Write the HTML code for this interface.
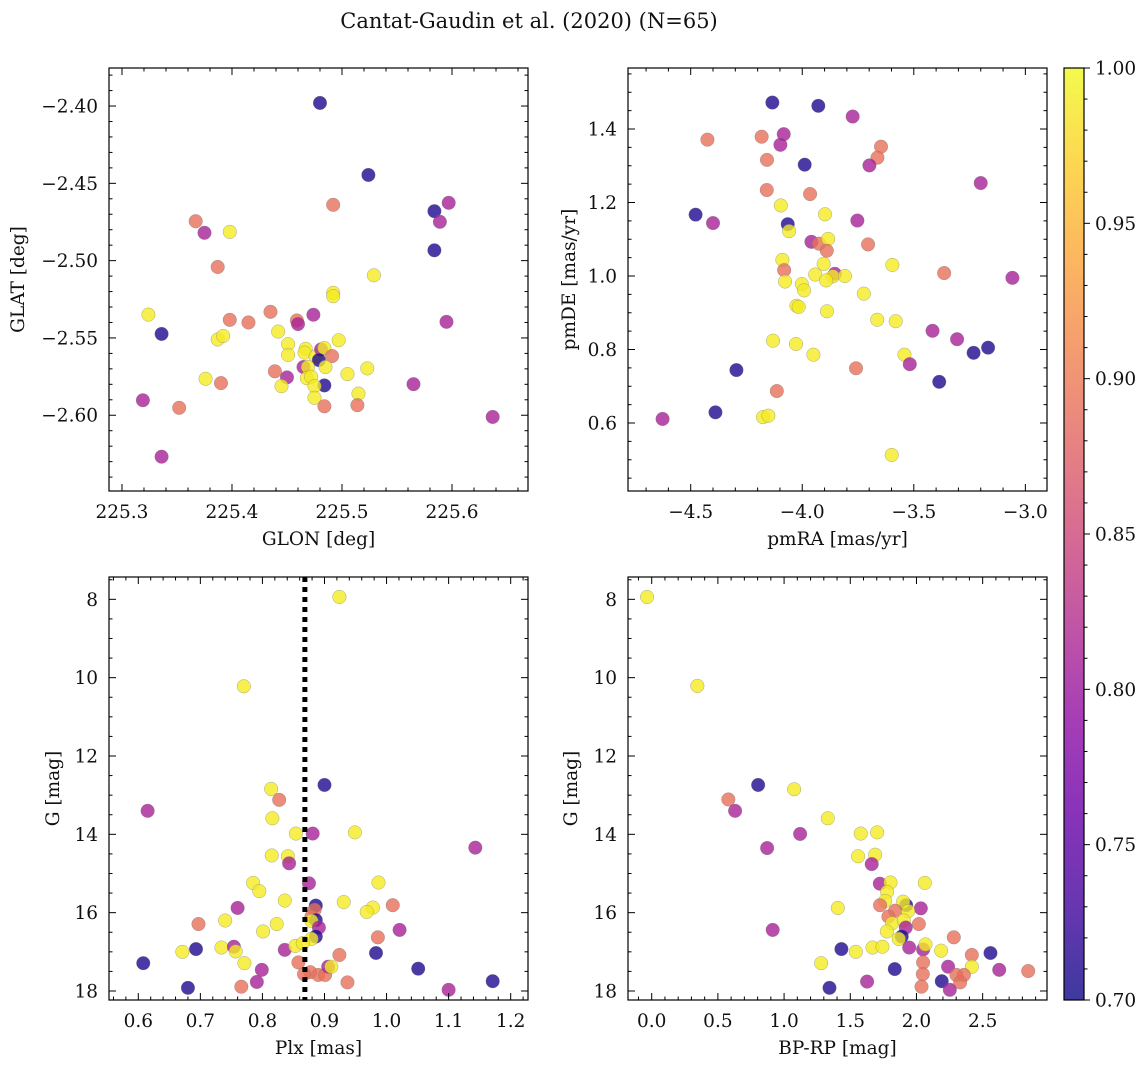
<!DOCTYPE html>
<html><head><meta charset="utf-8"><style>
body{margin:0;background:#fff;}
svg text{font-family:"DejaVu Serif","Liberation Serif",serif;fill:#111;}
</style></head><body>
<svg id="fig" width="1148" height="1067" xmlns="http://www.w3.org/2000/svg">
<rect width="1148" height="1067" fill="#fff"/>
<text x="529" y="28" font-size="21" text-anchor="middle">Cantat-Gaudin et al. (2020) (N=65)</text>
</svg>
<script>
// Panel 1: GLON/GLAT
const glon=[225.480,225.524,225.492,225.584,225.597,225.589,225.584,225.367,225.375,225.398,225.387,225.529,225.492,225.492,225.324,225.336,225.398,225.415,225.435,225.459,225.460,225.474,225.595,225.442,225.387,225.392,225.451,225.451,225.467,225.466,225.476,225.481,225.484,225.491,225.497,225.479,225.465,225.469,225.485,225.439,225.450,225.445,225.468,225.472,225.484,225.475,225.475,225.505,225.523,225.515,225.514,225.484,225.376,225.390,225.565,225.319,225.352,225.336,225.637];
const glat=[-2.398,-2.4446,-2.4639,-2.468,-2.4626,-2.4749,-2.4933,-2.4745,-2.482,-2.4814,-2.5041,-2.5095,-2.5208,-2.523,-2.5349,-2.5474,-2.5383,-2.540,-2.5331,-2.5387,-2.541,-2.535,-2.5396,-2.5459,-2.551,-2.5487,-2.554,-2.561,-2.557,-2.5595,-2.562,-2.5574,-2.5565,-2.5617,-2.5515,-2.5643,-2.5688,-2.5688,-2.5688,-2.5716,-2.5755,-2.5812,-2.576,-2.5751,-2.5807,-2.5812,-2.5887,-2.5734,-2.5697,-2.586,-2.5935,-2.5942,-2.5764,-2.5792,-2.5799,-2.5903,-2.5952,-2.6268,-2.6011];
const prob1=[0.71,0.71,0.89,0.71,0.81,0.81,0.71,0.89,0.81,0.99,0.89,0.99,0.99,0.99,0.99,0.71,0.89,0.89,0.89,0.89,0.81,0.81,0.81,0.99,0.99,0.99,0.99,0.99,0.99,0.99,0.99,0.81,0.99,0.89,0.99,0.71,0.81,0.99,0.99,0.89,0.81,0.99,0.99,0.99,0.71,0.99,0.99,0.99,0.99,0.99,0.89,0.89,0.99,0.89,0.81,0.81,0.89,0.81,0.81];
// Panel 2: pmRA/pmDE
const pmra=[-4.134,-3.928,-3.774,-4.425,-4.182,-4.083,-4.098,-3.647,-3.663,-3.699,-4.158,-3.989,-3.200,-4.159,-3.965,-4.096,-3.898,-4.478,-4.400,-4.065,-4.059,-3.753,-3.959,-3.925,-3.884,-3.890,-3.705,-4.089,-4.081,-4.077,-3.904,-3.942,-3.854,-3.863,-3.809,-3.893,-4.002,-3.992,-3.596,-3.364,-3.058,-3.724,-4.026,-4.016,-3.889,-3.664,-3.581,-3.416,-3.306,-3.167,-3.232,-4.131,-4.028,-3.950,-3.542,-3.518,-3.759,-4.295,-3.386,-4.114,-4.389,-4.626,-4.176,-4.152,-3.599];
const pmde=[1.472,1.463,1.434,1.371,1.379,1.386,1.357,1.352,1.322,1.301,1.316,1.303,1.253,1.234,1.223,1.192,1.168,1.167,1.144,1.141,1.122,1.151,1.093,1.088,1.101,1.069,1.086,1.044,1.016,0.985,1.033,1.004,1.006,0.999,1.000,0.988,0.978,0.961,1.030,1.008,0.995,0.952,0.919,0.916,0.904,0.881,0.877,0.851,0.828,0.805,0.791,0.824,0.815,0.786,0.786,0.760,0.749,0.744,0.712,0.687,0.629,0.611,0.616,0.620,0.513];
const prob2=[0.71,0.71,0.81,0.89,0.89,0.81,0.81,0.89,0.89,0.81,0.89,0.71,0.81,0.89,0.89,0.99,0.99,0.71,0.81,0.71,0.99,0.81,0.81,0.89,0.99,0.89,0.89,0.99,0.89,0.99,0.99,0.99,0.81,0.99,0.99,0.99,0.99,0.99,0.99,0.89,0.81,0.99,0.99,0.99,0.99,0.99,0.99,0.81,0.81,0.71,0.71,0.99,0.99,0.99,0.99,0.81,0.89,0.71,0.71,0.89,0.71,0.81,0.99,0.99,0.99];
// Panel 3: Plx/G
const plx=[0.924,0.770,0.900,0.814,0.827,0.615,0.816,0.854,0.881,0.949,1.143,0.815,0.841,0.843,0.875,0.785,0.795,0.987,0.836,0.931,0.886,0.884,1.010,0.978,0.968,0.760,0.879,0.886,0.879,0.891,0.697,0.740,0.823,0.801,1.021,0.986,0.886,0.879,0.693,0.671,0.734,0.754,0.757,0.836,0.853,0.865,0.983,0.924,0.858,0.771,0.608,0.799,1.051,0.877,0.867,0.890,0.901,0.906,0.911,0.937,0.791,0.766,0.680,1.100,1.171];
const gmag3=[7.94,10.22,12.74,12.84,13.12,13.40,13.59,13.98,13.98,13.95,14.34,14.54,14.56,14.74,15.25,15.24,15.45,15.23,15.69,15.73,15.82,15.93,15.81,15.87,15.98,15.88,16.10,16.19,16.21,16.38,16.29,16.20,16.29,16.48,16.44,16.63,16.61,16.67,16.93,17.00,16.89,16.87,16.99,16.95,16.85,16.78,17.03,17.08,17.27,17.29,17.29,17.46,17.43,17.52,17.57,17.59,17.59,17.38,17.38,17.78,17.77,17.89,17.92,17.97,17.75];
const prob3=[0.99,0.99,0.71,0.99,0.89,0.81,0.99,0.99,0.81,0.99,0.81,0.99,0.99,0.81,0.81,0.99,0.99,0.99,0.99,0.99,0.71,0.89,0.89,0.99,0.99,0.81,0.89,0.71,0.99,0.81,0.89,0.99,0.99,0.99,0.81,0.89,0.71,0.99,0.71,0.99,0.99,0.81,0.99,0.81,0.99,0.99,0.71,0.89,0.89,0.99,0.71,0.81,0.71,0.89,0.89,0.89,0.89,0.81,0.99,0.89,0.81,0.89,0.71,0.81,0.71];
const plxRef=[0.8684];
// Panel 4: BP-RP/G
const bprp=[-0.035,0.345,0.804,1.076,0.579,0.630,1.330,1.121,1.579,1.703,0.872,1.559,1.688,1.662,1.723,1.804,2.063,1.778,1.763,1.725,1.922,1.899,2.033,1.406,1.839,1.937,1.788,1.816,1.904,2.018,1.919,1.776,0.914,2.282,1.889,1.866,1.945,2.050,2.068,2.186,1.433,1.542,1.668,1.743,2.559,2.418,2.050,1.280,2.239,2.418,1.836,2.625,2.844,2.048,2.302,2.358,2.330,1.627,2.038,2.191,1.343,2.252];
const gmag4=[7.94,10.21,12.74,12.85,13.11,13.40,13.59,13.99,13.98,13.95,14.35,14.56,14.52,14.76,15.26,15.23,15.24,15.47,15.70,15.81,15.81,15.72,15.89,15.88,15.95,15.96,16.10,16.27,16.20,16.29,16.38,16.48,16.44,16.63,16.61,16.67,16.89,16.94,16.81,16.97,16.93,17.00,16.89,16.87,17.03,17.08,17.27,17.29,17.38,17.38,17.44,17.46,17.49,17.57,17.59,17.59,17.78,17.76,17.89,17.75,17.92,17.97];
const prob4=[0.99,0.99,0.71,0.99,0.89,0.81,0.99,0.81,0.99,0.99,0.81,0.99,0.99,0.81,0.81,0.99,0.99,0.99,0.99,0.89,0.71,0.99,0.81,0.99,0.89,0.99,0.89,0.99,0.99,0.89,0.81,0.99,0.81,0.89,0.71,0.99,0.81,0.81,0.99,0.99,0.71,0.99,0.99,0.99,0.71,0.89,0.89,0.99,0.81,0.99,0.71,0.81,0.89,0.89,0.89,0.89,0.89,0.81,0.89,0.71,0.71,0.81];
const cbTicks=[0.70,0.75,0.80,0.85,0.90,0.95,1.00];

const NS='http://www.w3.org/2000/svg';
const svg=document.getElementById('fig');
function mk(tag,attrs,parent){const e=document.createElementNS(NS,tag);for(const k in attrs)e.setAttribute(k,attrs[k]);(parent||svg).appendChild(e);return e;}
const stops=[[13,8,135],[65,4,157],[106,0,168],[143,13,164],[177,42,144],[204,71,120],[225,100,98],[242,132,75],[252,166,54],[252,206,37],[240,249,33]];
function plasma(t){t=Math.max(0,Math.min(1,t));const f=t*10,i=Math.min(9,Math.floor(f)),r=f-i;const a=stops[i],b=stops[i+1];return 'rgb('+[0,1,2].map(k=>Math.round(a[k]+(b[k]-a[k])*r)).join(',')+')';}
function cnorm(p){return (p-0.7)/0.3;}
function fmt(v,d){return v<0?'\u2212'+Math.abs(v).toFixed(d):v.toFixed(d);}
const FS=18.5;

function panel(o){
  const g=mk('g',{});
  
  
  const X=v=>o.x0+(v-o.xmin)/(o.xmax-o.xmin)*(o.x1-o.x0);
  const Y=o.invert?(v=>o.y0+(v-o.ymin)/(o.ymax-o.ymin)*(o.y1-o.y0)):(v=>o.y1-(v-o.ymin)/(o.ymax-o.ymin)*(o.y1-o.y0));
  const pts=mk('g',{},g);
  
  
  for(let i=0;i<o.xs.length;i++){
    const c=mk('circle',{cx:X(o.xs[i]),cy:Y(o.ys[i]),r:6.8,fill:plasma(cnorm(o.cs[i])),'fill-opacity':0.8,stroke:'#777','stroke-width':0.5,'stroke-opacity':0.6},pts);
    
    
  }
  if(o.vline!==undefined){
    const l=mk('line',{x1:X(o.vline),x2:X(o.vline),y1:o.y0,y2:o.y1,stroke:'#000','stroke-width':5,'stroke-dasharray':'5 5'},g);
    
    
  }
  const fr=mk('rect',{x:o.x0,y:o.y0,width:o.x1-o.x0,height:o.y1-o.y0,fill:'none',stroke:'#000','stroke-width':1.2},g);
  
  
  const tk=mk('g',{stroke:'#000','stroke-width':1},g);
  
  
  const eps=1e-9;
  for(let v=Math.ceil(o.xmin/o.xminor-eps)*o.xminor;v<=o.xmax+eps;v+=o.xminor){
    const isMaj=Math.abs(v/o.xmajor-Math.round(v/o.xmajor))<1e-6;const L=isMaj?7:3.5;const x=X(v);
    mk('line',{x1:x,x2:x,y1:o.y1,y2:o.y1-L},tk);mk('line',{x1:x,x2:x,y1:o.y0,y2:o.y0+L},tk);
    if(isMaj){const t=mk('text',{x:x,y:o.y1+27,'font-size':FS,'text-anchor':'middle',stroke:'none'},g);t.textContent=fmt(v,o.xdec);
      }
  }
  for(let v=Math.ceil(o.ymin/o.yminor-eps)*o.yminor;v<=o.ymax+eps;v+=o.yminor){
    const isMaj=Math.abs(v/o.ymajor-Math.round(v/o.ymajor))<1e-6;const L=isMaj?7:3.5;const y=Y(v);
    mk('line',{x1:o.x0,x2:o.x0+L,y1:y,y2:y},tk);mk('line',{x1:o.x1,x2:o.x1-L,y1:y,y2:y},tk);
    if(isMaj){const t=mk('text',{x:o.x0-11,y:y+6.5,'font-size':FS,'text-anchor':'end',stroke:'none'},g);t.textContent=fmt(v,o.ydec);
      }
  }
  const xl=mk('text',{x:(o.x0+o.x1)/2,y:o.y1+54,'font-size':FS,'text-anchor':'middle'},g);xl.textContent=o.xlab;
  
  const yx=o.ylx,yc=(o.y0+o.y1)/2;
  const yl=mk('text',{x:yx,y:yc,'font-size':FS,'text-anchor':'middle',transform:'rotate(-90 '+yx+' '+yc+')'},g);yl.textContent=o.ylab;
  
}
panel({name:'glon-glat-panel',x0:109,x1:528,y0:68,y1:491,xmin:225.2882,xmax:225.6691,ymin:-2.6490,ymax:-2.3754,xs:glon,ys:glat,cs:prob1,xmajor:0.1,xminor:0.02,ymajor:0.05,yminor:0.01,xdec:1,ydec:2,xlab:'GLON [deg]',ylab:'GLAT [deg]',ylx:24});
panel({name:'proper-motion-panel',x0:628,x1:1047,y0:68,y1:491,xmin:-4.781,xmax:-2.903,ymin:0.415,ymax:1.566,xs:pmra,ys:pmde,cs:prob2,xmajor:0.5,xminor:0.1,ymajor:0.2,yminor:0.05,xdec:1,ydec:1,xlab:'pmRA [mas/yr]',ylab:'pmDE [mas/yr]',ylx:575});
panel({name:'parallax-magnitude-panel',x0:109,x1:528,y0:577,y1:1000,xmin:0.5528,xmax:1.2279,ymin:7.43,ymax:18.23,invert:true,xs:plx,ys:gmag3,cs:prob3,xmajor:0.1,xminor:0.02,ymajor:2,yminor:0.5,xdec:1,ydec:0,xlab:'Plx [mas]',ylab:'G [mag]',ylx:59,vline:plxRef[0]});
panel({name:'color-magnitude-panel',x0:628,x1:1047,y0:577,y1:1000,xmin:-0.179,xmax:2.986,ymin:7.43,ymax:18.23,invert:true,xs:bprp,ys:gmag4,cs:prob4,xmajor:0.5,xminor:0.1,ymajor:2,yminor:0.5,xdec:1,ydec:0,xlab:'BP-RP [mag]',ylab:'G [mag]',ylx:577});

// colorbar
const cb=mk('g',{});


const defs=mk('defs',{},cb);
const lg=mk('linearGradient',{id:'cbg',x1:0,y1:1,x2:0,y2:0},defs);
for(let i=0;i<=10;i++)mk('stop',{offset:i/10,'stop-color':plasma(i/10)},lg);
const cx0=1064,cx1=1084,cy0=68,cy1=1000;
mk('rect',{x:cx0,y:cy0,width:cx1-cx0,height:cy1-cy0,fill:'url(#cbg)','fill-opacity':0.8},cb);
mk('rect',{x:cx0,y:cy0,width:cx1-cx0,height:cy1-cy0,fill:'none',stroke:'#000','stroke-width':1.2},cb);
const CY=v=>cy1-(v-0.7)/0.3*(cy1-cy0);
for(let k=0;k<=30;k++){const v=0.7+k*0.01;const maj=k%5===0;const y=CY(v);
  mk('line',{x1:cx1,x2:cx1+(maj?6:3.5),y1:y,y2:y,stroke:'#000','stroke-width':1},cb);}
cbTicks.forEach(v=>{const t=mk('text',{x:cx1+11,y:CY(v)+6.5,'font-size':FS},cb);t.textContent=v.toFixed(2);
  });
</script>
</body></html>
